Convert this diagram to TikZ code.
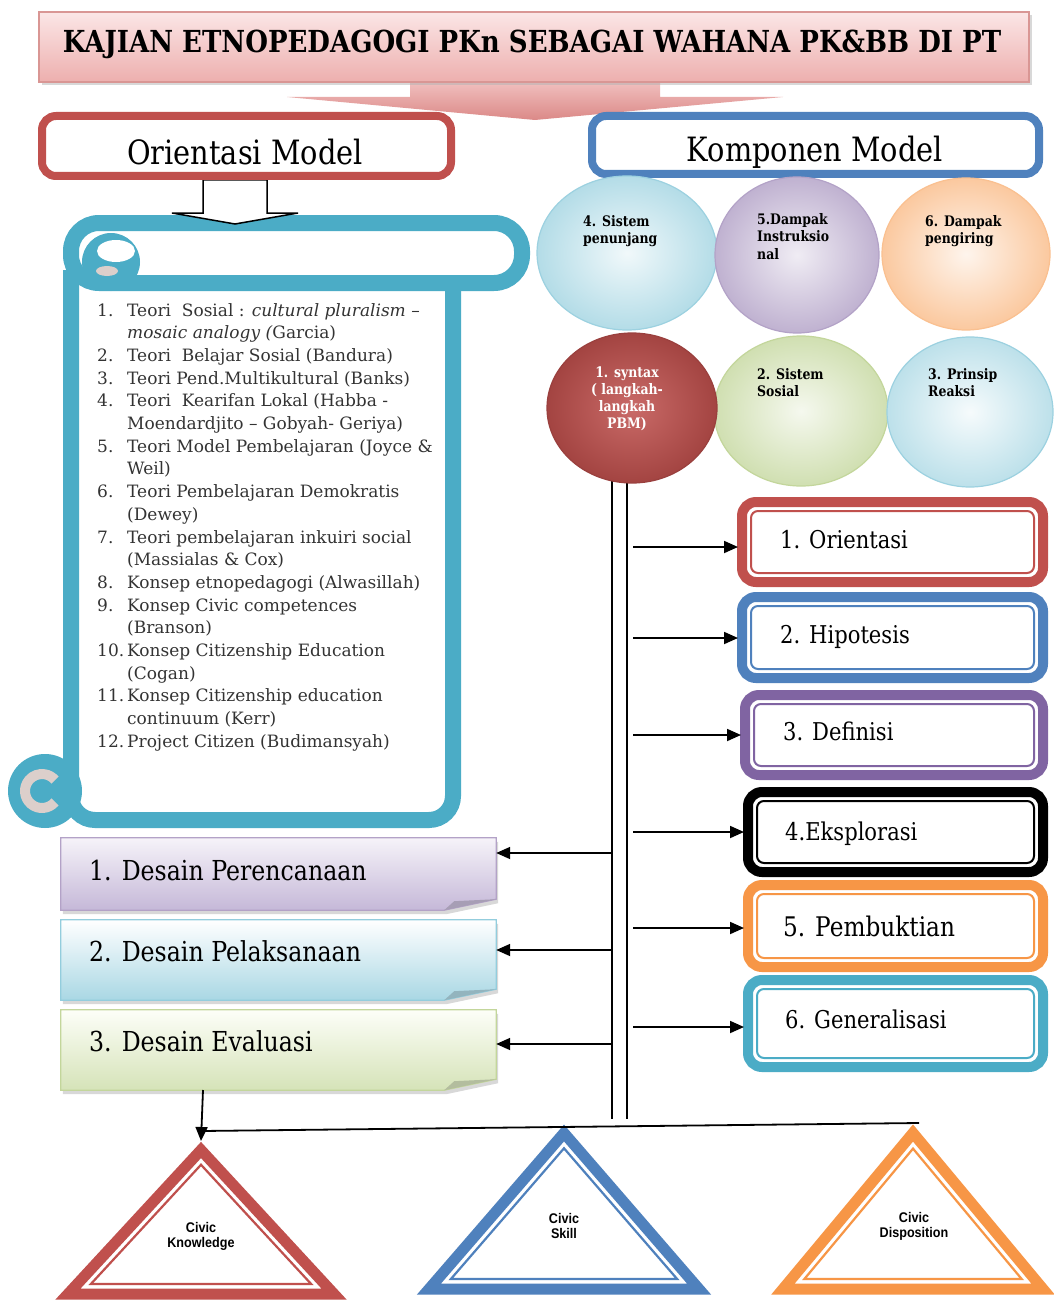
\documentclass[tikz,border=0pt]{standalone}
\usepackage{fontspec}
\setmainfont{DejaVu Serif}[FakeStretch=0.86]
\newfontfamily\listfont{DejaVu Serif}
\newfontfamily\civfont{Liberation Sans}[FakeStretch=0.9]
\usetikzlibrary{shapes.geometric,arrows.meta,shadows,calc}
\definecolor{cred}{HTML}{C0504D}
\definecolor{cblue}{HTML}{4F81BD}
\definecolor{cpurple}{HTML}{8064A2}
\definecolor{corange}{HTML}{F79646}
\definecolor{cteal}{HTML}{4BACC6}
\definecolor{cgreen}{HTML}{9BBB59}
\definecolor{curlgrey}{HTML}{DCCFCB}
\definecolor{listtext}{HTML}{333333}
\definecolor{pinktop}{HTML}{FBE6E6}
\definecolor{pinkbot}{HTML}{EDAFAE}
\definecolor{pinkline}{HTML}{D99694}
\newcommand\myfs[2]{\fontsize{#1}{#2}\selectfont}
\newcommand\civtri[5]{% cx, apex y, half base, base y, colour
  \pgfmathsetmacro\tH{#4-#2}%
  \pgfmathsetmacro\tS{100*veclen(#3/100,\tH/100)}%
  \pgfmathsetmacro\tR{#3/(#3+\tS)*\tH}%
  \pgfmathsetmacro\tK{(\tR-10)/\tR}%
  \pgfmathsetmacro\tIy{#4-\tR}%
  \pgfmathsetmacro\tAy{\tIy+\tK*(#2-\tIy)}%
  \pgfmathsetmacro\tBy{\tIy+\tK*\tR}%
  \pgfmathsetmacro\tBx{\tK*#3}%
  \draw[#5,line width=11pt,line join=miter,fill=white] (#1,#2) -- (#1-#3,#4) -- (#1+#3,#4) -- cycle;
  \draw[#5,line width=2.2pt,line join=miter] (#1,\tAy) -- (#1-\tBx,\tBy) -- (#1+\tBx,\tBy) -- cycle;
}
\begin{document}
\begin{tikzpicture}[x=1pt,y=-1pt,
  arr/.style={line width=1.8pt,-{Triangle[length=14pt,width=12pt]}},
  stepbox/.style={draw=#1,line width=10pt,rounded corners=14pt,fill=white,inner sep=0pt,outer sep=0pt,minimum width=301pt},
  steptxt/.style={anchor=base west,inner sep=0pt,font=\myfs{24.5}{28}},
  ell/.style={ellipse,inner sep=0pt,line width=1.2pt},
  elltxt/.style={anchor=north west,align=left,inner sep=0pt,font=\bfseries\myfs{14.5}{17.5}},
  dbox/.style={minimum width=435pt,inner sep=0pt},
  dtxt/.style={anchor=base west,inner sep=0pt,font=\myfs{27.5}{30}},
  civ/.style={align=center,inner sep=0pt,font=\civfont\bfseries\myfs{14}{15}},
  hbox/.style={line width=8pt,rounded corners=14pt,fill=white,inner sep=0pt},
]
\useasboundingbox[fill=white] (0,0) rectangle (1053,1300);

% ---------- title ----------
\shade[top color=pinkbot!80,bottom color=pinkbot!60!cred] (410,82) -- (410,97) -- (287,97) -- (535,120) -- (783,97) -- (660,97) -- (660,82) -- cycle;
\node[draw=pinkline,line width=1.5pt,top color=pinktop,bottom color=pinkbot,minimum width=990pt,minimum height=70pt,inner sep=0pt,
      drop shadow={shadow xshift=3pt,shadow yshift=-3pt,fill=black!30}] (title) at (534,47) {};
\node[anchor=base,inner sep=0pt,font=\bfseries\myfs{30.3}{36}] (titletext) at (532,53) {KAJIAN ETNOPEDAGOGI PKn SEBAGAI WAHANA PK\&BB DI PT};

% ---------- scroll ----------
\begin{scope}[cteal]
  \draw[line width=16pt,fill=white,rounded corners=24pt] (71,270) -- (71,820) -- (453,820) -- (453,270);
  \fill (45,791) circle (37);
  \draw[curlgrey,line width=10pt] (42,791) ++(40:17) arc (40:320:17);
  \draw[line width=16pt,fill=white,rounded corners=28pt] (71,223) rectangle (522,283);
  \fill (111,262) circle (29);
  \fill[white] (116,251) ellipse (19 and 11);
  \fill[curlgrey] (107,271) ellipse (11 and 5);
\end{scope}

\node[anchor=north west,inner sep=0pt,text=listtext,font=\listfont\myfs{17}{22.7}] (teori) at (97,300) {%
\begin{tabular}{@{}p{30pt}@{}l@{}}
1. & Teori\ \ Sosial : \textit{cultural pluralism –}\\
   & \textit{mosaic analogy (}Garcia)\\
2. & Teori\ \ Belajar Sosial (Bandura)\\
3. & Teori Pend.Multikultural (Banks)\\
4. & Teori\ \ Kearifan Lokal (Habba -\\
   & Moendardjito – Gobyah- Geriya)\\
5. & Teori Model Pembelajaran (Joyce \&\\
   & Weil)\\
6. & Teori Pembelajaran Demokratis\\
   & (Dewey)\\
7. & Teori pembelajaran inkuiri social\\
   & (Massialas \& Cox)\\
8. & Konsep etnopedagogi (Alwasillah)\\
9. & Konsep Civic competences\\
   & (Branson)\\
10.& Konsep Citizenship Education\\
   & (Cogan)\\
11.& Konsep Citizenship education\\
   & continuum (Kerr)\\
12.& Project Citizen (Budimansyah)
\end{tabular}};

% ---------- block arrow + heading boxes ----------
\draw[line width=1.5pt,fill=white] (203,180) -- (203,213) -- (172,213) -- (235,224) -- (298,213) -- (267,213) -- (267,180) -- cycle;
\node[hbox,draw=cred,minimum width=409pt,minimum height=60pt] (om) at (246.5,146) {};
\node[anchor=base,inner sep=0pt,font=\myfs{33.5}{36}] (omt) at (245,165) {Orientasi Model};
\node[hbox,draw=cblue,minimum width=447pt,minimum height=58pt] (km) at (815.5,145) {};
\node[anchor=base,inner sep=0pt,font=\myfs{33.5}{36}] (kmt) at (815,162) {Komponen Model};

% ---------- double vertical line ----------
\coordinate (vlA) at (612,1119);
\coordinate (vlB) at (627,1119);

% ---------- ellipses ----------
\node[ell,draw=cteal!55,inner color=cteal!8,outer color=cteal!42,minimum width=180pt,minimum height=154pt] (e4) at (627,253) {};
\node[ell,draw=cpurple!60,inner color=cpurple!12,outer color=cpurple!50,minimum width=164pt,minimum height=156pt] (e5) at (797,255) {};
\node[ell,draw=corange!60,inner color=corange!10,outer color=corange!52,minimum width=168pt,minimum height=152pt] (e6) at (966,254) {};
\node[ell,draw=cgreen!60,inner color=cgreen!10,outer color=cgreen!47,minimum width=174pt,minimum height=150pt] (e2) at (801,411) {};
\node[ell,draw=cteal!55,inner color=cteal!5,outer color=cteal!37,minimum width=166pt,minimum height=150pt] (e3) at (970,412) {};
\draw[line width=1.5pt] (vlA |- e4.south) ++(0,150) -- (vlA);
\draw[line width=1.5pt] (vlB |- e4.south) ++(0,150) -- (vlB);
\node[ell,draw=cred!80!black,inner color=cred!85!white,outer color=cred!85!black,minimum width=170pt,minimum height=150pt] (e1) at (632,408) {};

\node[elltxt] (e4t) at (583,215) {4. Sistem\\penunjang};
\node[elltxt] (e5t) at (757,213) {5.Dampak\\Instruksio\\nal};
\node[elltxt] (e6t) at (925,215) {6. Dampak\\pengiring};
\node[elltxt,anchor=north,align=center,text=white,font=\bfseries\myfs{14.5}{17}] (e1t) at (627,367) {1. syntax\\( langkah-\\langkah\\PBM)};
\node[elltxt] (e2t) at (757,368) {2. Sistem\\Sosial};
\node[elltxt] (e3t) at (928,368) {3. Prinsip\\Reaksi};

% ---------- step boxes ----------
\node[stepbox=cred,minimum height=80pt] (s1) at (892.5,542) {};
\node[stepbox=cblue,minimum height=81pt] (s2) at (892.5,637.5) {};
\node[stepbox=cpurple,minimum height=80pt,minimum width=298pt] (s3) at (894,735) {};
\node[stepbox=black,minimum height=80pt,minimum width=295pt] (s4) at (895.5,832) {};
\node[stepbox=corange,minimum height=82pt,minimum width=295pt] (s5) at (895.5,926) {};
\node[stepbox=cteal,minimum height=87pt,minimum width=295pt] (s6) at (895.5,1023.5) {};
\foreach \n/\c in {s1/cred,s2/cblue,s3/cpurple,s4/black,s5/corange,s6/cteal}
  \draw[\c,line width=2pt,rounded corners=7pt] ([shift={(9pt,-9pt)}]\n.north west) rectangle ([shift={(-9pt,9pt)}]\n.south east);
\node[steptxt] (s1t) at (780,548) {1. Orientasi};
\node[steptxt] (s2t) at (780,643) {2. Hipotesis};
\node[steptxt] (s3t) at (783,740) {3. Definisi};
\node[steptxt] (s4t) at (785,840) {4.Eksplorasi};
\node[steptxt,font=\myfs{27}{30}] (s5t) at (783,936) {5. Pembuktian};
\node[steptxt] (s6t) at (785,1028) {6. Generalisasi};

\foreach \y [count=\i] in {547,638,735,832,928,1027}{
  \coordinate (ra\i) at (633,\y);
  \draw[arr,shorten >=4pt] (ra\i) -- (ra\i -| s\i.west);
}

% ---------- desain boxes ----------
\node[dbox,minimum height=72pt] (d1) at (278.5,874) {};
\node[dbox,minimum height=80pt] (d2) at (278.5,960) {};
\node[dbox,minimum height=80pt] (d3) at (278.5,1050) {};
\foreach \n/\ct/\cb/\cl in {d1/F6F3F9/C5B8D8/B3A2C7,d2/FFFFFF/A9D7E4/93CDDD,d3/FDFEF8/D5E3B8/C3D69B}{
  \definecolor{dtop}{HTML}{\ct}\definecolor{dbot}{HTML}{\cb}\definecolor{dline}{HTML}{\cl}
  \shade[top color=dtop,bottom color=dbot,draw=dline,line width=1.2pt,
         drop shadow={shadow xshift=2pt,shadow yshift=-4pt,fill=black!30}]
    (\n.north west) -- (\n.north east) -- ([yshift=11pt]\n.south east) -- ([xshift=-52pt]\n.south east) -- (\n.south west) -- cycle;
  \fill[dbot!80!black!90] ([xshift=-52pt]\n.south east) -- ([xshift=-42pt,yshift=9pt]\n.south east) -- ([yshift=11pt]\n.south east) -- cycle;
}
\node[dtxt] (d1t) at (89,880) {1. Desain Perencanaan};
\node[dtxt] (d2t) at (89,961) {2. Desain Pelaksanaan};
\node[dtxt] (d3t) at (89,1051) {3. Desain Evaluasi};

\foreach \y [count=\i] in {853,950,1044}{
  \coordinate (la\i) at (612,\y);
  \draw[arr] (la\i) -- (la\i -| d\i.east);
}

% ---------- triangles ----------
\civtri{201}{1150}{133}{1294}{cred}
\civtri{564}{1133}{135}{1289}{cblue}
\civtri{913}{1133}{130}{1289}{corange}
\coordinate (t1a) at (201,1141);
\coordinate (dk) at (203,1090);
\coordinate (hk) at (201,1131);
\coordinate (hr) at (919,1123);
\draw[line width=1.8pt] (hk) -- (hr);
\draw[arr] (dk) -- (t1a);
\node[civ] (ck) at (201,1236) {Civic\\Knowledge};
\node[civ] (cs) at (564,1226) {Civic\\Skill};
\node[civ] (cd) at (914,1226) {Civic\\Disposition};
\end{tikzpicture}
\end{document}
